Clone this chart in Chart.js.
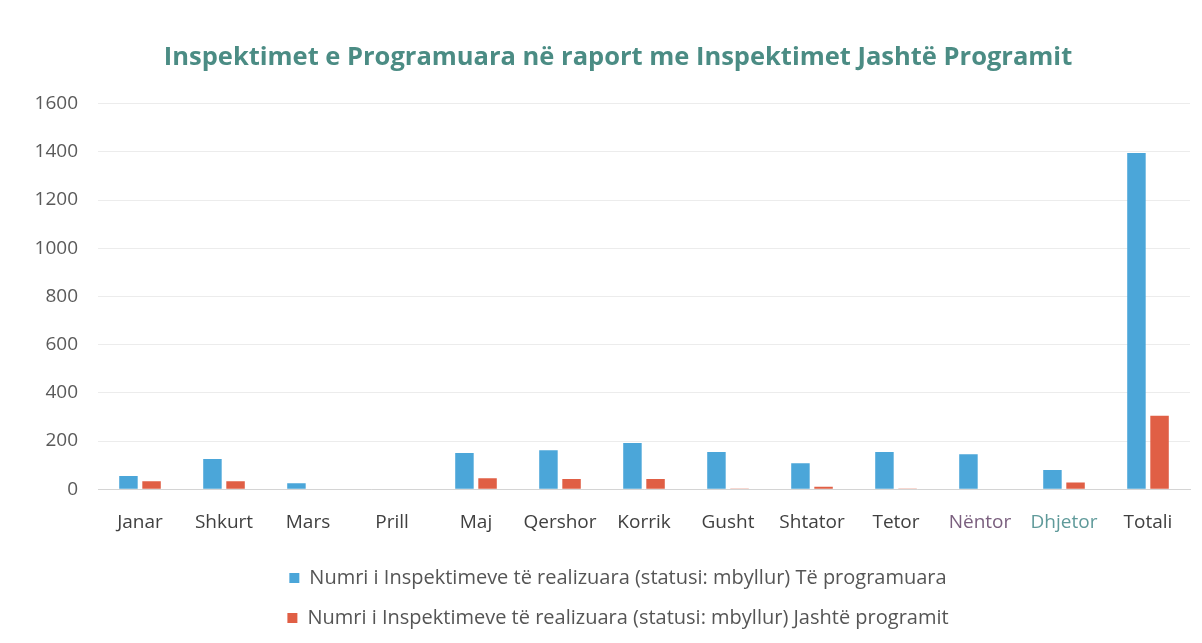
<!DOCTYPE html>
<html>
<head>
<meta charset="utf-8">
<script src="https://cdn.jsdelivr.net/npm/chart.js@4.4.0/dist/chart.umd.min.js"></script>
<style>
  html, body { margin: 0; padding: 0; background: #fff; }
  #wrap { width: 1202px; height: 643px; }
</style>
</head>
<body>
<div id="wrap"><canvas id="myInspectionChart" width="1202" height="643"></canvas></div>
<script>
const months = ["Janar", "Shkurt", "Mars", "Prill", "Maj", "Qershor", "Korrik", "Gusht", "Shtator", "Tetor", "Nëntor", "Dhjetor", "Totali"];
const programuara = [55, 125, 25, 0, 150, 162, 192, 154, 108, 154, 145, 80, 1395];
const jashteProgramit = [33, 33, 0, 0, 45, 42, 42, 3, 10, 3, 2, 28, 305];
const yTicks = [0, 200, 400, 600, 800, 1000, 1200, 1400, 1600];
const monthColors = ["#404040", "#404040", "#404040", "#404040", "#404040", "#404040", "#404040", "#404040", "#404040", "#404040", "#7a5f7e", "#5f9a9a", "#404040"];

const ctx = document.getElementById("myInspectionChart").getContext("2d");
const data = {
  labels: months,
  datasets: [
    {
      label: "Numri i Inspektimeve të realizuara (statusi: mbyllur) Të programuara",
      data: programuara,
      backgroundColor: "#4ba6d9",
      barPercentage: 0.8,
      categoryPercentage: 0.55,
    },
    {
      label: "Numri i Inspektimeve të realizuara (statusi: mbyllur) Jashtë programit",
      data: jashteProgramit,
      backgroundColor: "#e05f45",
      barPercentage: 0.8,
      categoryPercentage: 0.55,
    },
  ],
};

new Chart(ctx, {
  type: "bar",
  data: data,
  options: {
    responsive: false,
    animation: false,
    layout: {
      // negative right padding + empty right axis moves title/legend centre right
      padding: { left: 0, right: -34, top: 0, bottom: 5 },
    },
    scales: {
      y: {
        min: 0,
        max: 1600,
        afterBuildTicks: (scale) => {
          scale.ticks = yTicks.map((v) => ({ value: v }));
        },
        afterFit: (scale) => {
          scale.width = 98;
        },
        border: { display: false },
        grid: { color: "#ececec", drawTicks: false },
        ticks: {
          padding: 20,
          color: "#5a5a5a",
          font: { family: "Open Sans", size: 19 },
          callback: (value) => String(value),
        },
      },
      spacer: {
        position: "right",
        afterFit: (scale) => {
          scale.width = 46;
        },
        border: { display: false },
        grid: { display: false },
        ticks: { display: false },
      },
      x: {
        border: { display: true, color: "#d4d4d4" },
        grid: { display: false },
        ticks: {
          padding: 14,
          color: (c) => monthColors[c.index],
          font: { family: "Open Sans", size: 19 },
          maxRotation: 0,
        },
      },
    },
    plugins: {
      title: {
        display: true,
        text: "Inspektimet e Programuara në raport me Inspektimet Jashtë Programit",
        color: "#4b8c84",
        font: { family: "Open Sans", size: 25.5, weight: 700 },
        padding: { top: 42, bottom: 31 },
      },
      legend: {
        position: "bottom",
        labels: {
          boxWidth: 10,
          boxHeight: 10,
          padding: 20,
          color: "#555555",
          font: { family: "Open Sans", size: 20 },
        },
      },
      tooltip: { enabled: false },
    },
  },
});
</script>
</body>
</html>
